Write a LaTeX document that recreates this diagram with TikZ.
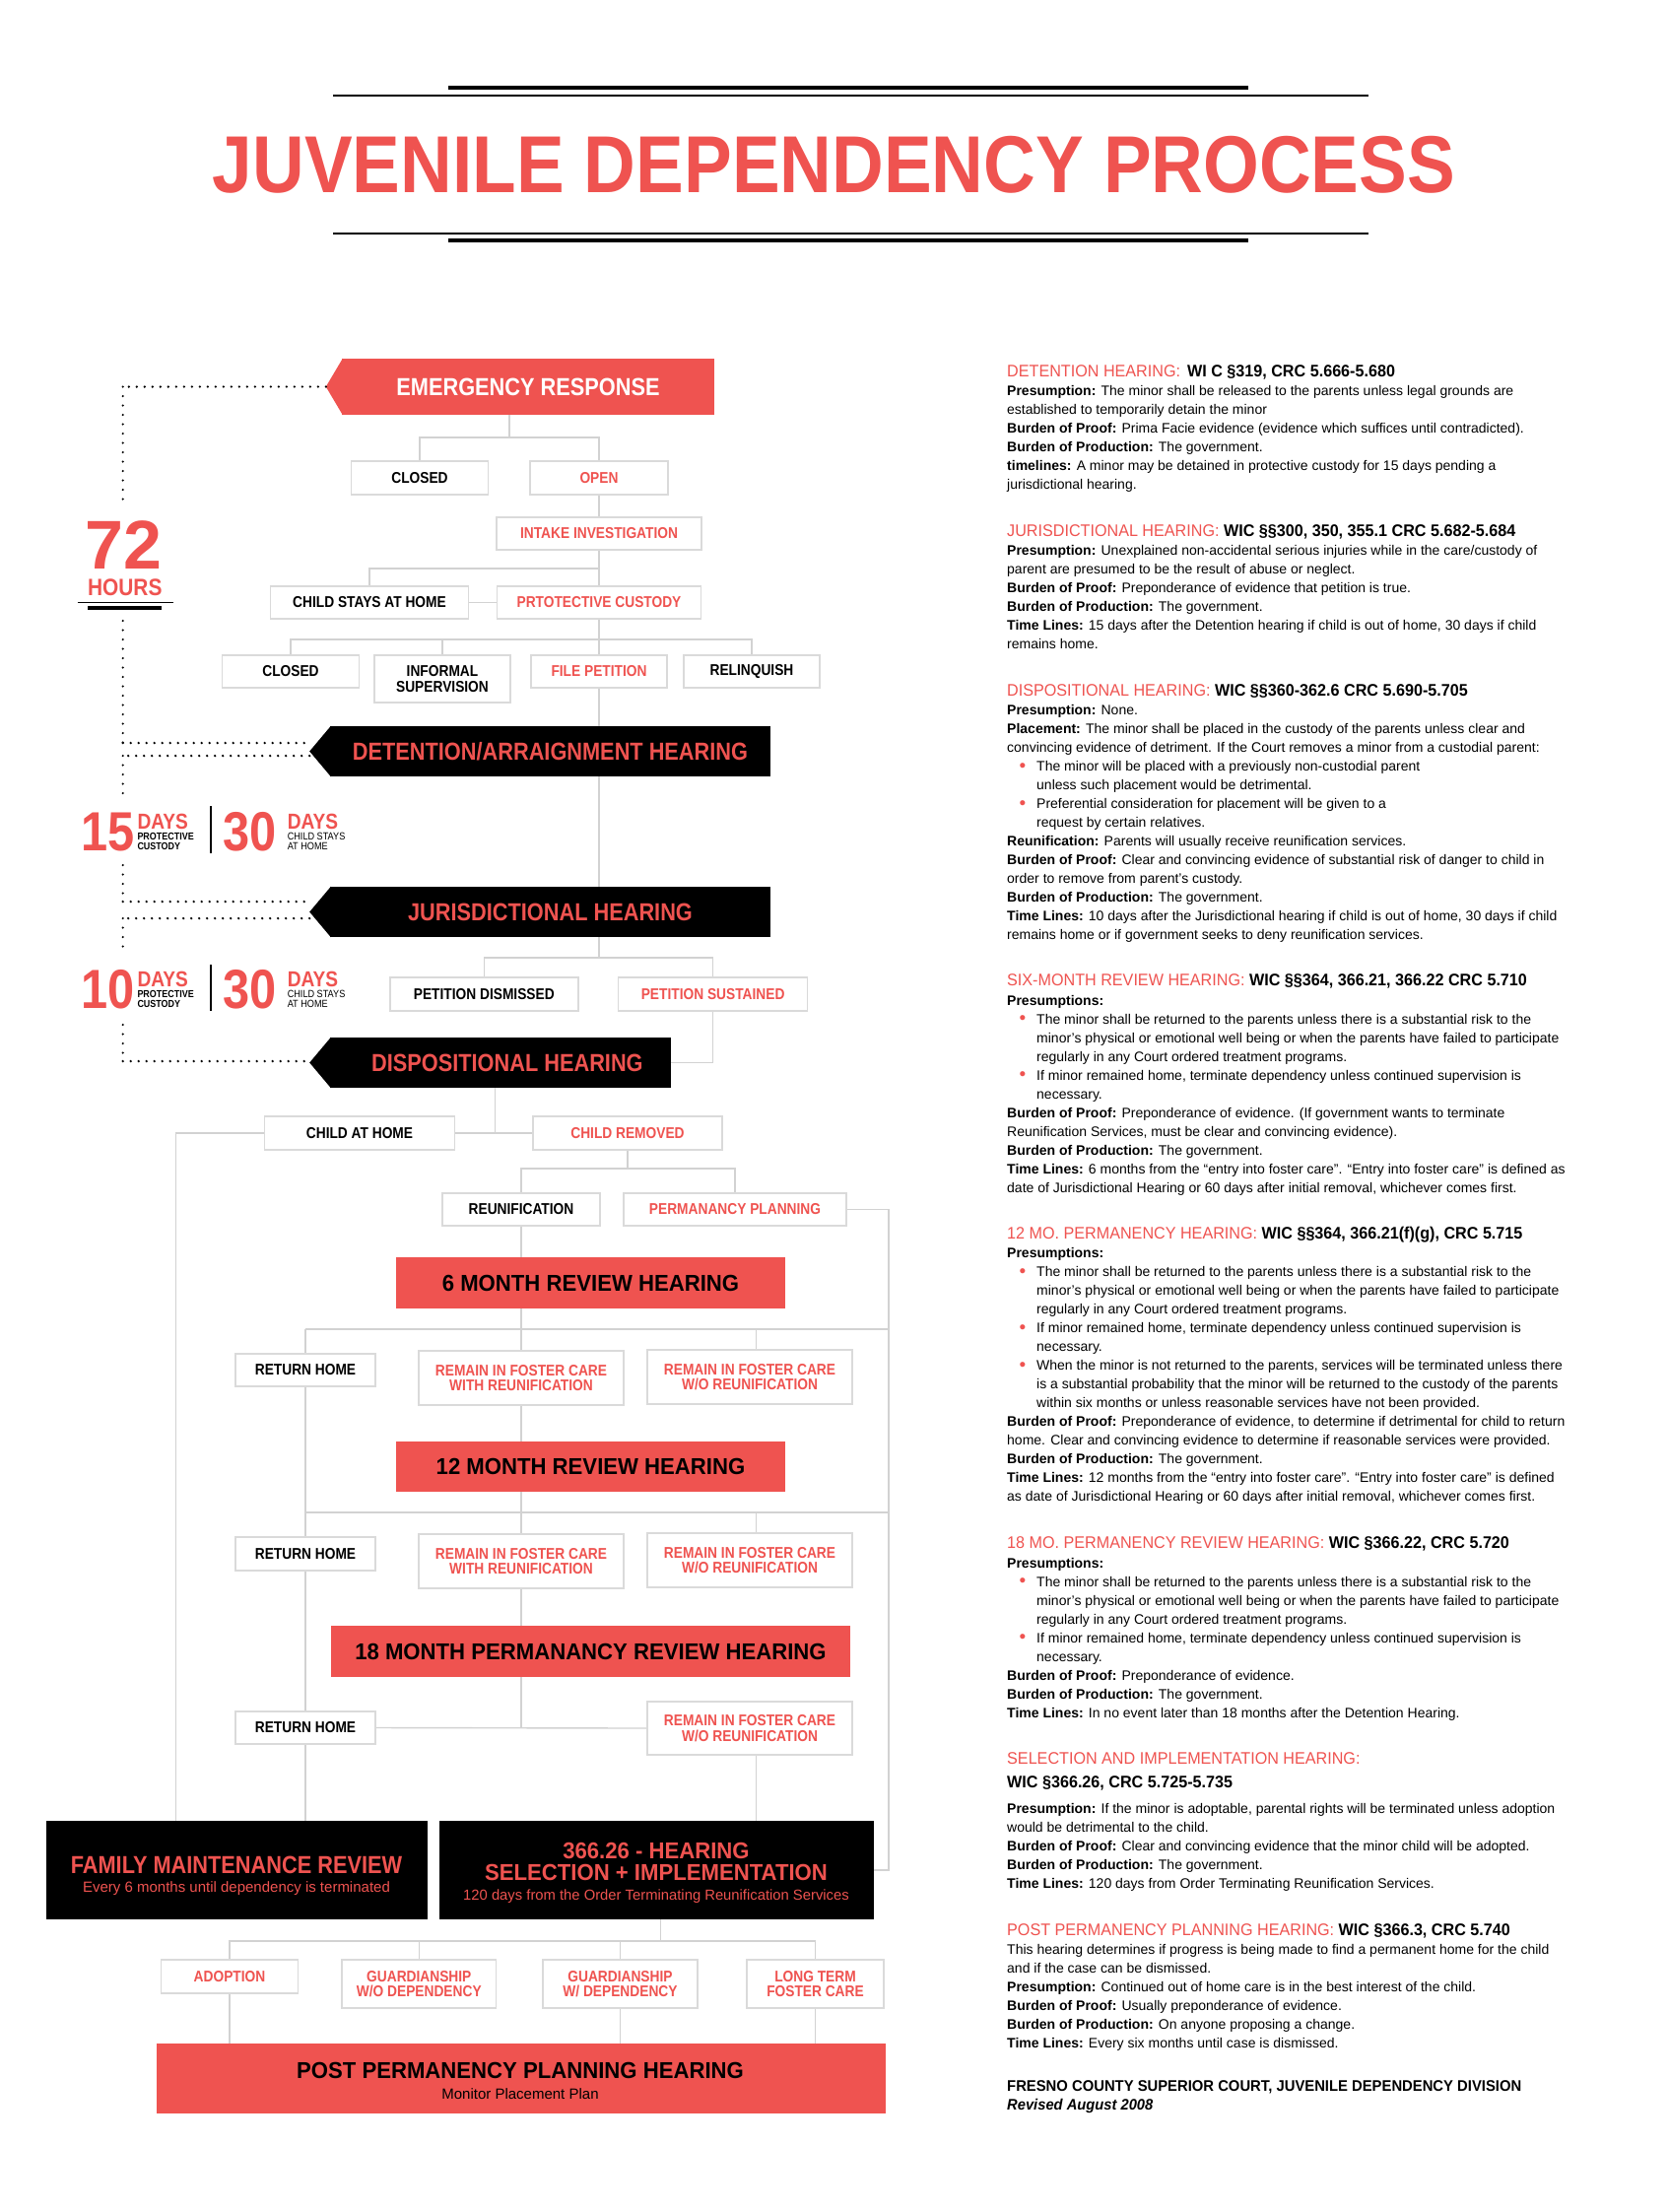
\documentclass[tikz,border=0pt]{standalone}
\usepackage{fontspec}
\setmainfont{Liberation Sans}
\newfontfamily\cf{Liberation Sans}[FakeStretch=0.87]
\newfontfamily\hf{Liberation Sans}[FakeStretch=0.95]
\newfontfamily\tf{Liberation Sans}[FakeStretch=0.89]
\usetikzlibrary{backgrounds,calc}
\pgfdeclarelayer{pagebg}
\pgfsetlayers{pagebg,background,main}
\definecolor{jred}{RGB}{239,83,80}
\definecolor{lgray}{RGB}{210,210,210}
\definecolor{bgray}{RGB}{218,218,218}
\tikzset{
  conn/.style={draw=lgray, line width=1.4pt},
  hdots/.style={draw=black, line width=2.6pt, line cap=round, dash pattern=on 0pt off 8pt},
  vdots/.style={draw=black, line width=2.4pt, line cap=round, dash pattern=on 0pt off 9.5pt},
  box/.style={draw=bgray, line width=1.6pt, fill=white, inner sep=0pt, align=center,
     font=\cf\bfseries\fontsize{15.8}{15.5}\selectfont},
  kbox/.style={box, text=black},
  rbox/.style={box, text=jred},
  banner/.style={inner sep=0pt, font=\cf\bfseries\fontsize{25}{25}\selectfont},
  hearing/.style={fill=jred, inner sep=0pt, text=black, font=\hf\bfseries\fontsize{23.3}{23}\selectfont},
  blackbox/.style={fill=black, inner sep=0pt},
  lbl/.style={inner sep=0pt, anchor=base},
  lblw/.style={inner sep=0pt, anchor=base west},
  body/.style={inner sep=0pt, anchor=north west, align=left, font=\fontsize{14}{19}\selectfont},
  head/.style={inner sep=0pt, anchor=base west, font=\hf\fontsize{17}{19}\selectfont},
}
\newcommand{\bul}{\hspace*{12.5pt}\makebox[17.5pt][l]{\raisebox{-0.6pt}{\textcolor{jred}{\fontsize{19}{19}\selectfont\textbullet}}}}
\newcommand{\ind}{\hspace*{30pt}}
\begin{document}
\begin{tikzpicture}[x=1pt,y=-1pt]
\begin{pgfonlayer}{pagebg}
\fill[white] (0,0) rectangle (1693,2245);
\end{pgfonlayer}
\useasboundingbox (0,0) rectangle (1693,2245);

% ---------- title ----------
\draw[line width=4pt] (455,89.3) -- (1267,89.3);
\draw[line width=2pt] (338,96.7) -- (1389,96.7);
\node[lbl, text=jred, font=\tf\bfseries\fontsize{82}{82}\selectfont] (title) at (846.5,195.7) {JUVENILE DEPENDENCY PROCESS};
\draw[line width=2pt] (338,236.7) -- (1389,236.7);
\draw[line width=4pt] (455,244.3) -- (1267,244.3);

% ---------- banners ----------
\node[banner, fill=jred, text=white, minimum width=378pt, minimum height=57pt] (er) at (536,392.5) {EMERGENCY RESPONSE};
\fill[jred] ($(er.north west)+(1,0)$) -- ($(er.west)+(-16,0)$) coordinate (ertip) -- ($(er.south west)+(1,0)$) -- cycle;

\node[banner, fill=black, text=jred, minimum width=447pt, minimum height=51pt] (det) at (558.5,762.5) {DETENTION/ARRAIGNMENT HEARING};
\fill[black] ($(det.north west)+(1,0)$) -- ($(det.west)+(-20.6,0)$) coordinate (dettip) -- ($(det.south west)+(1,0)$) -- cycle;

\node[banner, fill=black, text=jred, minimum width=447pt, minimum height=51pt] (jur) at (558.5,925.5) {JURISDICTIONAL HEARING};
\fill[black] ($(jur.north west)+(1,0)$) -- ($(jur.west)+(-20.6,0)$) coordinate (jurtip) -- ($(jur.south west)+(1,0)$) -- cycle;

\node[banner, fill=black, text=jred, minimum width=345.8pt, minimum height=51pt] (disp) at (507.9,1078.5) {\hspace*{14pt}DISPOSITIONAL HEARING};
\fill[black] ($(disp.north west)+(1,0)$) -- ($(disp.west)+(-20.6,0)$) coordinate (disptip) -- ($(disp.south west)+(1,0)$) -- cycle;

% ---------- boxes ----------
\node[kbox, minimum width=139pt, minimum height=34pt] (closedA) at (426,485) {CLOSED};
\node[rbox, minimum width=140pt, minimum height=34pt] (open) at (608,485) {OPEN};
\node[rbox, minimum width=208pt, minimum height=33pt] (intake) at (608,541.5) {INTAKE INVESTIGATION};
\node[kbox, minimum width=201pt, minimum height=33pt] (stays) at (375,611.5) {CHILD STAYS AT HOME};
\node[rbox, minimum width=207pt, minimum height=33pt] (prot) at (608,611.5) {PRTOTECTIVE CUSTODY};
\node[kbox, minimum width=139pt, minimum height=33pt] (closedB) at (295,681.5) {CLOSED};
\node[kbox, minimum width=138pt, minimum height=48pt] (informal) at (449,689) {INFORMAL\\SUPERVISION};
\node[rbox, minimum width=138pt, minimum height=33pt] (filepet) at (608,681.5) {FILE PETITION};
\node[kbox, minimum width=138pt, minimum height=33pt] (relinq) at (763,681.5) {RELINQUISH};
\node[kbox, minimum width=191pt, minimum height=34pt] (petdis) at (491.3,1009) {PETITION DISMISSED};
\node[rbox, minimum width=192pt, minimum height=34pt] (petsus) at (723.6,1009) {PETITION SUSTAINED};
\node[kbox, minimum width=193pt, minimum height=34pt] (athome) at (365,1150) {CHILD AT HOME};
\node[rbox, minimum width=191.5pt, minimum height=34pt] (removed) at (637,1150) {CHILD REMOVED};
\node[kbox, minimum width=160.5pt, minimum height=33pt] (reunif) at (529,1227.5) {REUNIFICATION};
\node[rbox, minimum width=226pt, minimum height=33pt] (permplan) at (746,1227.5) {PERMANANCY PLANNING};

\node[hearing, minimum width=395pt, minimum height=52pt] (six) at (599.5,1302) {6 MONTH REVIEW HEARING};
\node[kbox, minimum width=142pt, minimum height=33pt] (rh1) at (310,1390.5) {RETURN HOME};
\node[rbox, minimum width=208pt, minimum height=55pt] (rw1) at (529,1398.5) {REMAIN IN FOSTER CARE\\WITH REUNIFICATION};
\node[rbox, minimum width=208pt, minimum height=55pt] (rwo1) at (761,1397.5) {REMAIN IN FOSTER CARE\\W/O REUNIFICATION};

\node[hearing, minimum width=395pt, minimum height=51pt] (twelve) at (599.5,1488.5) {12 MONTH REVIEW HEARING};
\node[kbox, minimum width=142pt, minimum height=34pt] (rh2) at (310,1577) {RETURN HOME};
\node[rbox, minimum width=208pt, minimum height=55pt] (rw2) at (529,1584.5) {REMAIN IN FOSTER CARE\\WITH REUNIFICATION};
\node[rbox, minimum width=208pt, minimum height=55pt] (rwo2) at (761,1583.5) {REMAIN IN FOSTER CARE\\W/O REUNIFICATION};

\node[hearing, minimum width=527pt, minimum height=52pt] (eighteen) at (599.5,1676) {18 MONTH PERMANANCY REVIEW HEARING};
\node[kbox, minimum width=142pt, minimum height=33pt] (rh3) at (310,1753.5) {RETURN HOME};
\node[rbox, minimum width=208pt, minimum height=54pt] (rwo3) at (761,1754) {REMAIN IN FOSTER CARE\\W/O REUNIFICATION};

\node[blackbox, minimum width=386.5pt, minimum height=100pt] (fmr) at (240.25,1898) {};
\node[lbl, text=jred, font=\cf\bfseries\fontsize{25}{25}\selectfont] (fmrt) at (240,1901) {FAMILY MAINTENANCE REVIEW};
\node[lbl, text=jred, font=\fontsize{15}{15}\selectfont] (fmrs) at (240,1920) {Every 6 months until dependency is terminated};

\node[blackbox, minimum width=441.5pt, minimum height=100pt] (s366) at (666.25,1898) {};
\node[lbl, text=jred, font=\hf\bfseries\fontsize{23.3}{23}\selectfont] (s366a) at (666,1886.7) {366.26 - HEARING};
\node[lbl, text=jred, font=\hf\bfseries\fontsize{23.3}{23}\selectfont] (s366b) at (666,1908.3) {SELECTION + IMPLEMENTATION};
\node[lbl, text=jred, font=\fontsize{14.8}{15}\selectfont] (s366c) at (666,1928.3) {120 days from the Order Terminating Reunification Services};

\node[rbox, minimum width=139pt, minimum height=34pt] (adopt) at (233,2006) {ADOPTION};
\node[rbox, minimum width=156.5pt, minimum height=49pt] (gwo) at (425.3,2013.5) {GUARDIANSHIP\\W/O DEPENDENCY};
\node[rbox, minimum width=157pt, minimum height=49pt] (gw) at (629.5,2013.5) {GUARDIANSHIP\\W/ DEPENDENCY};
\node[rbox, minimum width=139pt, minimum height=49pt] (ltfc) at (827.5,2013.5) {LONG TERM\\FOSTER CARE};

\node[hearing, minimum width=740pt, minimum height=71pt] (ppph) at (528.5,2109.5) {};
\node[lbl, font=\hf\bfseries\fontsize{23.3}{23}\selectfont] (pppht) at (528,2109.3) {POST PERMANENCY PLANNING HEARING};
\node[lbl, font=\fontsize{15}{15}\selectfont] (pppts) at (528,2130.5) {Monitor Placement Plan};

% ---------- column coordinates ----------
\coordinate (tk) at (608,0);
\coordinate (c2) at (529,0);
\coordinate (c3) at (767.5,0);
\coordinate (mbus) at (310,0);
\coordinate (lbus) at (178.5,0);
\coordinate (rbus) at (902,0);
\coordinate (j1) at (517,444);
\coordinate (j2) at (608,577);
\coordinate (j3) at (608,649);
\coordinate (j4) at (608,972);
\coordinate (j5) at (502.4,1150);
\coordinate (j6) at (637,1186);
\coordinate (j7) at (529,1349);
\coordinate (j8) at (529,1535);
\coordinate (j10) at (670.5,1970);

% ---------- connectors ----------
\begin{scope}[on background layer]
\draw[conn] (j1 |- er.south) -- (j1);
\draw[conn] (closedA.north) |- (j1) -| (open.north);
\draw[conn] (open.south) -- (intake.north);
\draw[conn] (intake.south) -- (prot.north);
\draw[conn] (stays.north) |- (j2);
\draw[conn] (stays.east) -- (prot.west);
\draw[conn] (prot.south) -- (filepet.north);
\draw[conn] (closedB.north) |- (j3) -| (relinq.north);
\draw[conn] (informal.north) -- (informal.north |- j3);
\draw[conn] (filepet.south) -- (filepet.south |- det.north);
\draw[conn] (det.south -| tk) -- (jur.north -| tk);
\draw[conn] (jur.south -| j4) -- (j4);
\draw[conn] (petdis.north) |- (j4) -| (petsus.north);
\draw[conn] (petsus.south) |- (disp.east);
\draw[conn] (disp.south -| j5) -- (j5);
\draw[conn] (athome.east) -- (removed.west);
\draw[conn] (athome.west) -| (fmr.north -| lbus);
\draw[conn] (removed.south) -- (j6);
\draw[conn] (reunif.north) |- (j6) -| (permplan.north);
\draw[conn] (permplan.east) -| (s366.east -| rbus) -- (s366.east);
\draw[conn] (reunif.south) -- (six.north -| c2);
\draw[conn] (six.south -| c2) -- (rw1.north);
\draw[conn] (j7 -| mbus) -- (j7 -| rbus);
\draw[conn] (j7 -| c3) -- (rwo1.north -| c3);
\draw[conn] (j7 -| mbus) -- (fmr.north -| mbus);
\draw[conn] (rw1.south) -- (twelve.north -| c2);
\draw[conn] (twelve.south -| c2) -- (rw2.north);
\draw[conn] (j8 -| mbus) -- (j8 -| rbus);
\draw[conn] (j8 -| c3) -- (rwo2.north -| c3);
\draw[conn] (rw2.south) -- (eighteen.north -| c2);
\draw[conn] (eighteen.south -| c2) -- (c2 |- rh3.east);
\draw[conn] (rh3.east) -- (rwo3.west);
\draw[conn] (rwo3.south -| c3) -- (s366.north -| c3);
\draw[conn] (s366.south -| j10) -- (j10);
\draw[conn] (adopt.north) |- (j10) -| (ltfc.north);
\draw[conn] (gwo.north) -- (gwo.north |- j10);
\draw[conn] (gw.north) -- (gw.north |- j10);
\draw[conn] (adopt.south) -- (adopt.south |- ppph.north);
\draw[conn] (gw.south) -- (gw.south |- ppph.north);
\draw[conn] (ltfc.south) -- (ltfc.south |- ppph.north);
\end{scope}

% ---------- dotted time line ----------
\coordinate (tl) at (124.7,0);
\coordinate (d1) at (124.7,507);
\coordinate (d2) at (124.7,630);
\coordinate (d3) at (124.7,754);
\coordinate (d4) at (124.7,767);
\coordinate (d5) at (124.7,807);
\coordinate (d6) at (124.7,878);
\coordinate (d7) at (124.7,915);
\coordinate (d8) at (124.7,932);
\coordinate (d9) at (124.7,970);
\coordinate (d10) at (124.7,1040);
\coordinate (d11) at (124.7,1077);
\draw[hdots] (ertip) -- (ertip -| tl);
\draw[vdots] (ertip -| tl) -- (d1);
\draw[vdots] (d2) -- (d3);
\draw[hdots] (d3) -- (d3 -| dettip);
\draw[hdots] (d4 -| dettip) -- (d4);
\draw[vdots] (d4) -- (d5);
\draw[vdots] (d6) -- (d7);
\draw[hdots] (d7) -- (d7 -| jurtip);
\draw[hdots] (d8 -| jurtip) -- (d8);
\draw[vdots] (d8) -- (d9);
\draw[vdots] (d10) -- (d11);
\draw[hdots] (d11) -- (d11 -| disptip);

% 72 hours
\node[lbl, text=jred, font=\bfseries\fontsize{70}{70}\selectfont] (n72) at (125.5,577) {72};
\node[lbl, text=jred, font=\cf\bfseries\fontsize{24}{24}\selectfont] (hrs) at (126.8,604) {HOURS};
\draw[line width=1.5pt] (78.6,611.7) -- (176,611.7);
\draw[line width=3.5pt] (89.4,617) -- (164.2,617);

% 15 / 30 days
\node[lblw, text=jred, font=\cf\bfseries\fontsize{56}{56}\selectfont] (n15) at (82,863) {15};
\node[lblw, text=jred, font=\cf\bfseries\fontsize{22}{22}\selectfont] (n15d) at (139.3,841) {DAYS};
\node[lblw, font=\cf\bfseries\fontsize{10.3}{10}\selectfont] (n15p) at (139.3,852.3) {PROTECTIVE};
\node[lblw, font=\cf\bfseries\fontsize{10.3}{10}\selectfont] (n15c) at (139.3,862.7) {CUSTODY};
\draw[line width=2pt] (214,818) -- (214,866);
\node[lblw, text=jred, font=\cf\bfseries\fontsize{56}{56}\selectfont] (n30a) at (226,863) {30};
\node[lblw, text=jred, font=\cf\bfseries\fontsize{22}{22}\selectfont] (n30ad) at (291.6,841) {DAYS};
\node[lblw, font=\cf\fontsize{10.5}{10}\selectfont] (n30ac) at (291.6,852.3) {CHILD STAYS};
\node[lblw, font=\cf\fontsize{10.5}{10}\selectfont] (n30ah) at (291.6,862.7) {AT HOME};

% 10 / 30 days
\node[lblw, text=jred, font=\cf\bfseries\fontsize{56}{56}\selectfont] (n10) at (82,1023) {10};
\node[lblw, text=jred, font=\cf\bfseries\fontsize{22}{22}\selectfont] (n10d) at (139.3,1001) {DAYS};
\node[lblw, font=\cf\bfseries\fontsize{10.3}{10}\selectfont] (n10p) at (139.3,1012.3) {PROTECTIVE};
\node[lblw, font=\cf\bfseries\fontsize{10.3}{10}\selectfont] (n10c) at (139.3,1022.7) {CUSTODY};
\draw[line width=2pt] (214,979) -- (214,1026);
\node[lblw, text=jred, font=\cf\bfseries\fontsize{56}{56}\selectfont] (n30b) at (226,1023) {30};
\node[lblw, text=jred, font=\cf\bfseries\fontsize{22}{22}\selectfont] (n30bd) at (291.6,1001) {DAYS};
\node[lblw, font=\cf\fontsize{10.5}{10}\selectfont] (n30bc) at (291.6,1012.3) {CHILD STAYS};
\node[lblw, font=\cf\fontsize{10.5}{10}\selectfont] (n30bh) at (291.6,1022.7) {AT HOME};

% ---------- right column ----------
\node[head] (h1) at (1022,382.3) {\textcolor{jred}{DETENTION HEARING:}\hspace{7pt}\textbf{WI C §319, CRC 5.666-5.680}};
\node[body] (b1) at (1022,388.4) {\strut\textbf{Presumption:} The minor shall be released to the parents unless legal grounds are\\
established to temporarily detain the minor\\
\textbf{Burden of Proof:} Prima Facie evidence (evidence which suffices until contradicted).\\
\textbf{Burden of Production:} The government.\\
\textbf{timelines:} A minor may be detained in protective custody for 15 days pending a\\
jurisdictional hearing.};

\node[head] (h2) at (1022,544) {\textcolor{jred}{JURISDICTIONAL HEARING:} \textbf{WIC §§300, 350, 355.1 CRC 5.682-5.684}};
\node[body] (b2) at (1022,550.1) {\strut\textbf{Presumption:} Unexplained non-accidental serious injuries while in the care/custody of\\
parent are presumed to be the result of abuse or neglect.\\
\textbf{Burden of Proof:} Preponderance of evidence that petition is true.\\
\textbf{Burden of Production:} The government.\\
\textbf{Time Lines:} 15 days after the Detention hearing if child is out of home, 30 days if child\\
remains home.};

\node[head] (h3) at (1022,706) {\textcolor{jred}{DISPOSITIONAL HEARING:} \textbf{WIC §§360-362.6 CRC 5.690-5.705}};
\node[body] (b3) at (1022,712.1) {\strut\textbf{Presumption:} None.\\
\textbf{Placement:} The minor shall be placed in the custody of the parents unless clear and\\
convincing evidence of detriment. If the Court removes a minor from a custodial parent:\\
\bul The minor will be placed with a previously non-custodial parent\\
\ind unless such placement would be detrimental.\\
\bul Preferential consideration for placement will be given to a\\
\ind request by certain relatives.\\
\textbf{Reunification:} Parents will usually receive reunification services.\\
\textbf{Burden of Proof:} Clear and convincing evidence of substantial risk of danger to child in\\
order to remove from parent’s custody.\\
\textbf{Burden of Production:} The government.\\
\textbf{Time Lines:} 10 days after the Jurisdictional hearing if child is out of home, 30 days if child\\
remains home or if government seeks to deny reunification services.};

\node[head] (h4) at (1022,1000.7) {\textcolor{jred}{SIX-MONTH REVIEW HEARING:} \textbf{WIC §§364, 366.21, 366.22 CRC 5.710}};
\node[body] (b4) at (1022,1006.8) {\strut\textbf{Presumptions:}\\
\bul The minor shall be returned to the parents unless there is a substantial risk to the\\
\ind minor’s physical or emotional well being or when the parents have failed to participate\\
\ind regularly in any Court ordered treatment programs.\\
\bul If minor remained home, terminate dependency unless continued supervision is\\
\ind necessary.\\
\textbf{Burden of Proof:} Preponderance of evidence. (If government wants to terminate\\
Reunification Services, must be clear and convincing evidence).\\
\textbf{Burden of Production:} The government.\\
\textbf{Time Lines:} 6 months from the “entry into foster care”. “Entry into foster care” is defined as\\
date of Jurisdictional Hearing or 60 days after initial removal, whichever comes first.};

\node[head] (h5) at (1022,1257.3) {\textcolor{jred}{12 MO. PERMANENCY HEARING:} \textbf{WIC §§364, 366.21(f)(g), CRC 5.715}};
\node[body] (b5) at (1022,1263.4) {\strut\textbf{Presumptions:}\\
\bul The minor shall be returned to the parents unless there is a substantial risk to the\\
\ind minor’s physical or emotional well being or when the parents have failed to participate\\
\ind regularly in any Court ordered treatment programs.\\
\bul If minor remained home, terminate dependency unless continued supervision is\\
\ind necessary.\\
\bul When the minor is not returned to the parents, services will be terminated unless there\\
\ind is a substantial probability that the minor will be returned to the custody of the parents\\
\ind within six months or unless reasonable services have not been provided.\\
\textbf{Burden of Proof:} Preponderance of evidence, to determine if detrimental for child to return\\
home. Clear and convincing evidence to determine if reasonable services were provided.\\
\textbf{Burden of Production:} The government.\\
\textbf{Time Lines:} 12 months from the “entry into foster care”. “Entry into foster care” is defined\\
as date of Jurisdictional Hearing or 60 days after initial removal, whichever comes first.};

\node[head] (h6) at (1022,1571.7) {\textcolor{jred}{18 MO. PERMANENCY REVIEW HEARING:} \textbf{WIC §366.22, CRC 5.720}};
\node[body] (b6) at (1022,1577.8) {\strut\textbf{Presumptions:}\\
\bul The minor shall be returned to the parents unless there is a substantial risk to the\\
\ind minor’s physical or emotional well being or when the parents have failed to participate\\
\ind regularly in any Court ordered treatment programs.\\
\bul If minor remained home, terminate dependency unless continued supervision is\\
\ind necessary.\\
\textbf{Burden of Proof:} Preponderance of evidence.\\
\textbf{Burden of Production:} The government.\\
\textbf{Time Lines:} In no event later than 18 months after the Detention Hearing.};

\node[head] (h7) at (1022,1790) {\textcolor{jred}{SELECTION AND IMPLEMENTATION HEARING:}};
\node[head, font=\hf\bfseries\fontsize{17}{19}\selectfont] (h7b) at (1022,1814) {WIC §366.26, CRC 5.725-5.735};
\node[body] (b7) at (1022,1827.4) {\strut\textbf{Presumption:} If the minor is adoptable, parental rights will be terminated unless adoption\\
would be detrimental to the child.\\
\textbf{Burden of Proof:} Clear and convincing evidence that the minor child will be adopted.\\
\textbf{Burden of Production:} The government.\\
\textbf{Time Lines:} 120 days from Order Terminating Reunification Services.};

\node[head] (h8) at (1022,1964) {\textcolor{jred}{POST PERMANENCY PLANNING HEARING:} \textbf{WIC §366.3, CRC 5.740}};
\node[body] (b8) at (1022,1970.1) {\strut This hearing determines if progress is being made to find a permanent home for the child\\
and if the case can be dismissed.\\
\textbf{Presumption:} Continued out of home care is in the best interest of the child.\\
\textbf{Burden of Proof:} Usually preponderance of evidence.\\
\textbf{Burden of Production:} On anyone proposing a change.\\
\textbf{Time Lines:} Every six months until case is dismissed.};

\node[head, font=\hf\bfseries\fontsize{15.6}{19}\selectfont] (fres) at (1022,2122.7) {FRESNO COUNTY SUPERIOR COURT, JUVENILE DEPENDENCY DIVISION};
\node[head, font=\hf\bfseries\itshape\fontsize{15.5}{19}\selectfont] (rev) at (1022,2141.7) {Revised August 2008};
\end{tikzpicture}
\end{document}
